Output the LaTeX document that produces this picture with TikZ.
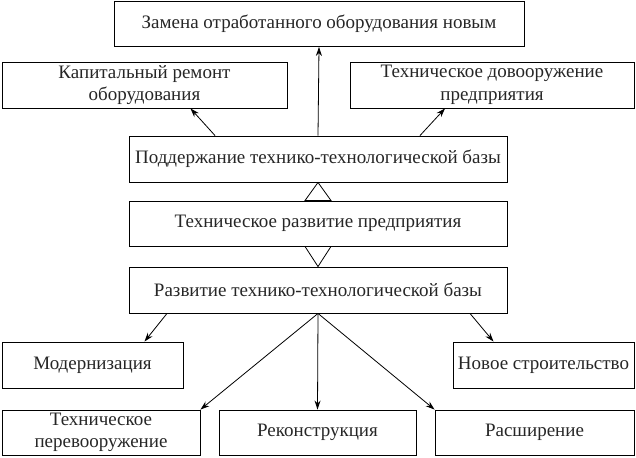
\documentclass[tikz,border=0pt]{standalone}
\usepackage{fontspec}
\setmainfont{Liberation Serif}
\usepackage{tikz}
\usetikzlibrary{arrows.meta}

\begin{document}
\begin{tikzpicture}[x=1pt,y=-1pt]
      \tikzstyle{box}=[draw,line width=0.9pt,rectangle,align=center,inner sep=2pt,
        font=\fontsize{19}{22.5}\selectfont,minimum height=45pt,text=black!85]
      \tikzstyle{link}=[-{Stealth[length=9pt,width=6pt]},line width=0.8pt]
      \useasboundingbox (0,0) rectangle (636,457);
      % upper level
      \node[box,minimum width=410pt] (zamena) at (319,24) {Замена отработанного оборудования новым};
      \node[box,minimum width=285pt,minimum height=46pt] (kapremont) at (144.5,85) {Капитальный ремонт\\оборудования};
      \node[box,minimum width=284pt,minimum height=46pt] (dovooruzh) at (492,85) {Техническое довооружение\\предприятия};
      % middle column
      \node[box,minimum width=378pt,minimum height=46pt] (podderzh) at (318,159) {Поддержание технико-технологической базы};
      \node[box,minimum width=378pt] (razvpred) at (318,223.5) {Техническое развитие предприятия};
      \node[box,minimum width=378pt,minimum height=46pt] (razvbaza) at (318,290) {Развитие технико-технологической базы};
      % lower level
      \node[box,minimum width=181pt,minimum height=46pt] (modern) at (92.5,365) {Модернизация};
      \node[box,minimum width=181pt,minimum height=46pt] (novoe) at (543.5,365) {Новое строительство};
      \node[box,minimum width=198pt] (perevooruzh) at (101,432.5) {Техническое\\перевооружение};
      \node[box,minimum width=197pt] (rekonstr) at (317.5,432.5) {Реконструкция};
      \node[box,minimum width=199pt] (rasshir) at (534.5,432.5) {Расширение};
      % triangles
      \draw[line width=0.8pt] (podderzh.south) -- ([xshift=-13pt]razvpred.north) -- ([xshift=13pt]razvpred.north) -- cycle;
      \draw[line width=0.8pt] (razvbaza.north) -- ([xshift=-13pt]razvpred.south) -- ([xshift=13pt]razvpred.south) -- cycle;
      % arrows
      \draw[link] (podderzh.north) -- (zamena.south);
      \draw[link] ([xshift=-103pt]podderzh.north) -- ([xshift=46pt]kapremont.south);
      \draw[link] ([xshift=102pt]podderzh.north) -- ([xshift=-47pt]dovooruzh.south);
      \draw[link] ([xshift=-151pt]razvbaza.south) -- ([xshift=52pt]modern.north);
      \draw[link] ([xshift=152pt]razvbaza.south) -- ([xshift=-50pt]novoe.north);
      \draw[link] (razvbaza.south) -- (perevooruzh.north east);
      \draw[link] (razvbaza.south) -- (rekonstr.north);
      \draw[link] (razvbaza.south) -- (rasshir.north west);
\end{tikzpicture}
\end{document}
